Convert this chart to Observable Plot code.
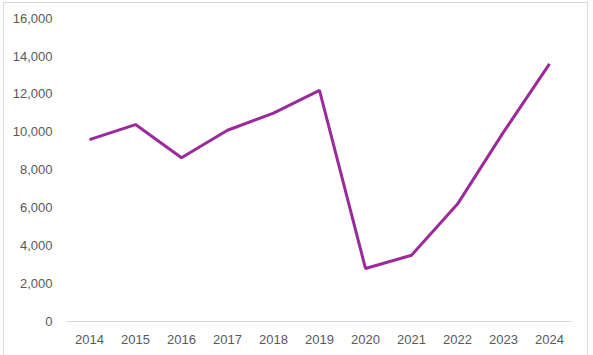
<!DOCTYPE html>
<html>
<head>
<meta charset="utf-8">
<script src="https://cdn.jsdelivr.net/npm/d3@7"></script>
<script src="https://cdn.jsdelivr.net/npm/@observablehq/plot@0.6"></script>
<style>
  html, body { margin: 0; padding: 0; background: #fff; }
  #frame { position: absolute; left: 3px; top: 2px; width: 585px; height: 360px; border: 1px solid #d9d9d9; box-sizing: border-box; }
  #chart { position: absolute; left: 0; top: 0; }
</style>
</head>
<body>
<div id="frame"></div>
<div id="chart"></div>
<script>
const years = ["2014","2015","2016","2017","2018","2019","2020","2021","2022","2023","2024"];
const values = [9600, 10400, 8650, 10100, 11000, 12200, 2800, 3500, 6200, 10000, 13600];
const yTicks = [0, 2000, 4000, 6000, 8000, 10000, 12000, 14000, 16000];

const data = years.map((y, i) => ({year: y, value: values[i]}));

const chart = Plot.plot({
  width: 593,
  height: 355,
  marginLeft: 66,
  marginRight: 21,
  marginTop: 18,
  marginBottom: 34,
  style: {fontFamily: "'Liberation Sans', Arial, sans-serif", fontSize: "13px", color: "#595959", background: "transparent"},
  x: {type: "point", domain: years, padding: 0.5, label: null},
  y: {domain: [0, 16000], ticks: yTicks, label: null, tickFormat: d3.format(",")},
  marks: [
    Plot.ruleY([0], {stroke: "#d9d9d9", strokeWidth: 1}),
    Plot.axisY({ticks: yTicks, tickSize: 0, tickPadding: 14, tickFormat: d3.format(","), label: null, fill: "#595959"}),
    Plot.axisX({tickSize: 0, tickPadding: 13, label: null, fill: "#595959"}),
    Plot.line(data, {x: "year", y: "value", stroke: "#9b2a9a", strokeWidth: 3, strokeLinejoin: "miter", strokeLinecap: "butt"})
  ]
});
document.getElementById("chart").appendChild(chart);
</script>
</body>
</html>
